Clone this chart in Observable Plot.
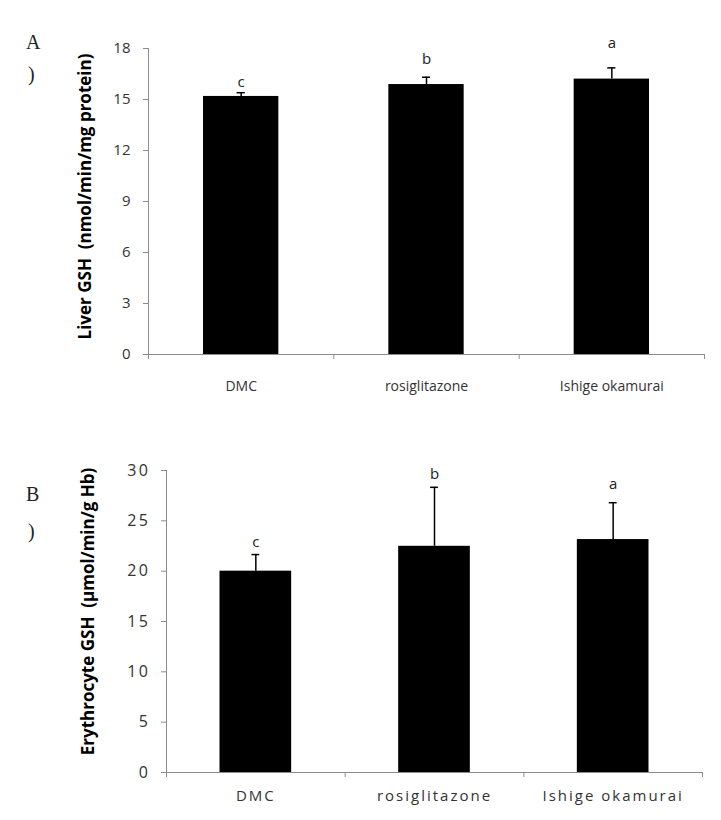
<!DOCTYPE html>
<html>
<head>
<meta charset="utf-8">
<script src="https://cdn.jsdelivr.net/npm/d3@7"></script>
<script src="https://cdn.jsdelivr.net/npm/@observablehq/plot@0.6"></script>
<style>
  html, body { margin: 0; padding: 0; background: #fff; }
  #wrap { position: relative; width: 721px; height: 820px; overflow: hidden; background: #fff; }
  .panel { position: absolute; left: 0; }
  .tag { position: absolute; z-index: 2; font-family: "Liberation Serif", "DejaVu Serif", serif; font-size: 20px; color: #222; line-height: 1; }
  #pb g[aria-label="x-axis tick label"] text { letter-spacing: 2px; }
  #pb g[aria-label="y-axis tick label"] text { letter-spacing: 2.5px; }
</style>
</head>
<body>
<div id="wrap">
  <div id="pa" class="panel" style="top:0px;"></div>
  <div id="pb" class="panel" style="top:420px;"></div>
  <div class="tag" style="left:26px; top:32px;">A</div>
  <div class="tag" style="left:28px; top:64px;">)</div>
  <div class="tag" style="left:26px; top:484px;">B</div>
  <div class="tag" style="left:28px; top:521px;">)</div>
</div>
<script>
// ---- data ----
const categories = ["DMC", "rosiglitazone", "Ishige okamurai"];

const liverGSH = [15.18, 15.88, 16.2];
const liverErr = [0.22, 0.43, 0.66];
const liverLetters = ["c", "b", "a"];
const liverLetterAt = [16.0, 17.4, 18.3];
const liverTicks = [0, 3, 6, 9, 12, 15, 18];
const liverLabel = "Liver GSH\u00a0\u00a0(nmol/min/mg protein)";

const eryGSH = [20.0, 22.47, 23.14];
const eryErr = [1.65, 5.86, 3.66];
const eryLetters = ["c", "b", "a"];
const eryLetterAt = [22.9, 29.6, 28.6];
const eryTicks = [0, 5, 10, 15, 20, 25, 30];
const eryLabel = "Erythrocyte GSH\u00a0\u00a0(\u03bcmol/min/g Hb)";

function panel({values, errs, letters, letterAt, ticks, label, width, height,
                marginTop, marginBottom, marginLeft, marginRight, inset,
                labelDx, labelDy, xPad, yPad, tickFont, catFont}) {
  const rows = categories.map((c, i) => ({
    cat: c, i, v: values[i], e: errs[i], top: values[i] + errs[i],
    letter: letters[i], ly: letterAt[i]
  }));
  const gray = "#8c8c8c";
  const txt = "#333";
  return Plot.plot({
    width, height, marginTop, marginBottom, marginLeft, marginRight,
    style: {fontFamily: "'Open Sans', sans-serif", background: "#fff"},
    x: {type: "linear", domain: [0, categories.length]},
    y: {domain: [ticks[0], ticks[ticks.length - 1]]},
    marks: [
      Plot.rectY(rows, {x1: d => d.i, x2: d => d.i + 1, y1: 0, y2: "v",
                        fill: "#000", insetLeft: inset, insetRight: inset}),
      Plot.ruleX(rows, {x: d => d.i + 0.5, y1: "v", y2: "top", stroke: "#000", strokeWidth: 1.5}),
      Plot.ruleY(rows, {y: "top", x1: d => d.i + 0.5 - 0.022, x2: d => d.i + 0.5 + 0.022,
                        stroke: "#000", strokeWidth: 1.5}),
      Plot.text(rows, {x: d => d.i + 0.5, y: "ly", text: "letter", fontSize: 15, fill: "#222"}),
      Plot.ruleX([0], {stroke: gray}),
      Plot.ruleY([0], {stroke: gray}),
      Plot.axisY({ticks, tickSize: 5, tickPadding: yPad, stroke: gray, fill: txt,
                  fontSize: tickFont, label: null}),
      Plot.axisX({ticks: d3.range(categories.length + 1), tickSize: 5, stroke: gray,
                  tickFormat: () => "", label: null}),
      Plot.axisX({ticks: categories.map((c, i) => i + 0.5), tickSize: 0, tickPadding: xPad,
                  tickFormat: t => categories[Math.round(t - 0.5)], fill: txt,
                  fontSize: catFont, label: null}),
      Plot.text([label], {frameAnchor: "left", textAnchor: "middle", lineAnchor: "middle",
                          rotate: -90, dx: labelDx, dy: labelDy,
                          fontSize: 17, fontWeight: "bold", fill: "#000"})
    ]
  });
}

document.getElementById("pa").appendChild(panel({
  values: liverGSH, errs: liverErr, letters: liverLetters, letterAt: liverLetterAt,
  ticks: liverTicks, label: liverLabel, width: 721, height: 410,
  marginTop: 48, marginBottom: 56, marginLeft: 148, marginRight: 17, inset: 55,
  labelDx: -63, labelDy: -5, xPad: 27, yPad: 13, tickFont: 15, catFont: 14
}));

document.getElementById("pb").appendChild(panel({
  values: eryGSH, errs: eryErr, letters: eryLetters, letterAt: eryLetterAt,
  ticks: eryTicks, label: eryLabel, width: 721, height: 400,
  marginTop: 50, marginBottom: 48, marginLeft: 166, marginRight: 19, inset: 53.5,
  labelDx: -78, labelDy: -10, xPad: 18, yPad: 11, tickFont: 16, catFont: 15
}));
</script>
</body>
</html>
